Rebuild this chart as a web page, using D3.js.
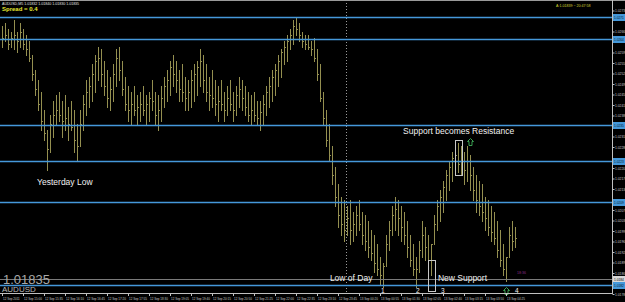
<!DOCTYPE html>
<html><head><meta charset="utf-8">
<script src="https://cdn.jsdelivr.net/npm/d3@7"></script>
<style>html,body{margin:0;padding:0;background:#000;overflow:hidden}</style>
</head><body><svg id="c" width="625" height="302"></svg>
<script>
// ---- data (AUDUSD, M5 bars) ----
const highs = [
1.0268,1.0269,1.0267,1.0266,1.0270,1.0266,1.0269,1.0267,1.0265,1.0263,
1.0258,1.0253,1.0250,1.0246,1.0240,1.0233,1.0238,1.0243,1.0245,1.0246,
1.0243,1.0245,1.0241,1.0243,1.0240,1.0235,1.0240,1.0245,1.0250,1.0251,
1.0255,1.0258,1.0261,1.0260,1.0256,1.0253,1.0251,1.0255,1.0260,1.0261,
1.0256,1.0251,1.0248,1.0246,1.0248,1.0245,1.0246,1.0248,1.0245,1.0246,
1.0250,1.0246,1.0245,1.0248,1.0251,1.0253,1.0256,1.0258,1.0256,1.0253,
1.0255,1.0251,1.0250,1.0253,1.0255,1.0256,1.0260,1.0258,1.0255,1.0251,
1.0253,1.0250,1.0248,1.0250,1.0246,1.0248,1.0250,1.0246,1.0248,1.0251,
1.0250,1.0248,1.0246,1.0245,1.0246,1.0243,1.0243,1.0245,1.0248,1.0251,
1.0253,1.0255,1.0258,1.0260,1.0263,1.0265,1.0267,1.0270,1.0271,1.0269,
1.0266,1.0265,1.0265,1.0263,1.0264,1.0260,1.0255,1.0246,1.0240,1.0235,
1.0228,1.0221,1.0215,1.0211,1.0210,1.0208,1.0210,1.0206,1.0208,1.0210,
1.0206,1.0205,1.0203,1.0200,1.0198,1.0195,1.0191,1.0189,1.0198,1.0203,
1.0208,1.0211,1.0210,1.0208,1.0206,1.0203,1.0198,1.0195,1.0191,1.0196,
1.0203,1.0201,1.0198,1.0195,1.0205,1.0210,1.0213,1.0216,1.0220,1.0223,
1.0226,1.0230,1.0229,1.0228,1.0226,1.0228,1.0225,1.0221,1.0218,1.0216,
1.0215,1.0211,1.0210,1.0208,1.0206,1.0203,1.0200,1.0195,1.0191,1.0201,
1.0203,1.0201];
const lows = [
1.0261,1.0263,1.0260,1.0261,1.0260,1.0259,1.0261,1.0260,1.0258,1.0256,
1.0250,1.0245,1.0240,1.0233,1.0230,1.0220,1.0226,1.0231,1.0235,1.0236,
1.0231,1.0233,1.0230,1.0233,1.0226,1.0223,1.0228,1.0233,1.0238,1.0241,
1.0243,1.0246,1.0250,1.0248,1.0245,1.0241,1.0240,1.0243,1.0248,1.0250,
1.0245,1.0240,1.0236,1.0235,1.0238,1.0235,1.0236,1.0238,1.0235,1.0236,
1.0240,1.0235,1.0233,1.0236,1.0241,1.0243,1.0245,1.0248,1.0246,1.0243,
1.0243,1.0240,1.0240,1.0241,1.0243,1.0245,1.0248,1.0246,1.0243,1.0240,
1.0241,1.0238,1.0236,1.0240,1.0236,1.0238,1.0240,1.0236,1.0238,1.0241,
1.0240,1.0238,1.0236,1.0235,1.0236,1.0235,1.0233,1.0235,1.0238,1.0241,
1.0243,1.0245,1.0248,1.0251,1.0255,1.0256,1.0260,1.0262,1.0265,1.0263,
1.0261,1.0260,1.0260,1.0258,1.0256,1.0250,1.0243,1.0235,1.0228,1.0223,
1.0215,1.0208,1.0201,1.0198,1.0196,1.0198,1.0195,1.0196,1.0198,1.0200,
1.0195,1.0193,1.0191,1.0190,1.0186,1.0185,1.0182,1.0181,1.0188,1.0193,
1.0198,1.0200,1.0198,1.0196,1.0195,1.0191,1.0188,1.0185,1.0181,1.0186,
1.0191,1.0190,1.0186,1.0185,1.0195,1.0200,1.0203,1.0206,1.0210,1.0213,
1.0216,1.0220,1.0219,1.0218,1.0215,1.0216,1.0213,1.0210,1.0206,1.0205,
1.0203,1.0200,1.0198,1.0196,1.0195,1.0191,1.0188,1.0185,1.0183,1.0191,
1.0193,1.0194];
const closes = [
1.0264,1.0265,1.0262,1.0264,1.0265,1.0263,1.0266,1.0262,1.0260,1.0257,
1.0252,1.0247,1.0242,1.0236,1.0232,1.0227,1.0235,1.0238,1.0240,1.0238,
1.0236,1.0237,1.0235,1.0234,1.0230,1.0228,1.0235,1.0242,1.0246,1.0248,
1.0252,1.0256,1.0257,1.0252,1.0248,1.0244,1.0247,1.0252,1.0257,1.0253,
1.0247,1.0242,1.0240,1.0242,1.0240,1.0241,1.0242,1.0240,1.0242,1.0244,
1.0243,1.0238,1.0240,1.0244,1.0248,1.0250,1.0254,1.0252,1.0250,1.0247,
1.0246,1.0244,1.0246,1.0250,1.0252,1.0254,1.0256,1.0250,1.0246,1.0245,
1.0244,1.0242,1.0243,1.0242,1.0240,1.0244,1.0242,1.0240,1.0245,1.0247,
1.0244,1.0241,1.0238,1.0240,1.0238,1.0237,1.0239,1.0242,1.0246,1.0248,
1.0251,1.0253,1.0256,1.0259,1.0261,1.0263,1.0265,1.0268,1.0267,1.0265,
1.0263,1.0262,1.0261,1.0260,1.0257,1.0252,1.0244,1.0237,1.0230,1.0225,
1.0218,1.0211,1.0205,1.0202,1.0200,1.0204,1.0200,1.0202,1.0205,1.0202,
1.0198,1.0196,1.0194,1.0192,1.0189,1.0187,1.0185,1.0188,1.0195,1.0200,
1.0205,1.0207,1.0204,1.0201,1.0198,1.0194,1.0190,1.0187,1.0187,1.0193,
1.0198,1.0194,1.0190,1.0195,1.0202,1.0208,1.0211,1.0214,1.0218,1.0221,
1.0224,1.0225,1.0222,1.0224,1.0220,1.0223,1.0218,1.0213,1.0210,1.0208,
1.0206,1.0204,1.0201,1.0199,1.0197,1.0193,1.0190,1.0187,1.0191,1.0198,
1.0196,1.0197];
const firstOpen = 1.0266;
const levels = [1.02708, 1.02635, 1.02348, 1.02228, 1.02092, 1.01815];
const markLevel = 1.01835;
const dayStartBar = 114.7;
const priceTicks = [1.01785,1.01820,1.01855,1.01890,1.01925,1.01960,1.01995,1.02030,1.02065,1.02100,
  1.02135,1.02170,1.02205,1.02240,1.02275,1.02310,1.02345,1.02380,1.02415,1.02450,
  1.02485,1.02520,1.02555,1.02590,1.02625,1.02660,1.02695,1.02730];
const timeLabels = ["12 Sep 2011","12 Sep 15:00","12 Sep 15:35","12 Sep 16:10","12 Sep 16:45","12 Sep 17:20",
  "12 Sep 17:55","12 Sep 18:30","12 Sep 19:05","12 Sep 19:40","12 Sep 20:15","12 Sep 20:50","12 Sep 21:25",
  "12 Sep 22:00","12 Sep 22:35","12 Sep 23:10","12 Sep 23:45","13 Sep 00:20","13 Sep 00:55","13 Sep 01:30",
  "13 Sep 02:05","13 Sep 02:40","13 Sep 03:15","13 Sep 03:50","13 Sep 04:25"];
const labelEvery = 7;
const notes = [
  {t:"Yesterday Low", i:11.7, p:1.02150, s:8.5},
  {t:"Support becomes Resistance", i:133.7, p:1.02318, s:8.5},
  {t:"Low of Day", i:109.3, p:1.01828, s:8.5},
  {t:"New Support", i:145.3, p:1.01828, s:8.5},
  {t:"1", i:126.3, p:1.01790, s:6.5},
  {t:"2", i:138.0, p:1.01790, s:6.5},
  {t:"3", i:146.3, p:1.01790, s:6.5},
  {t:"4", i:171.0, p:1.01790, s:6.5}
];
const boxes = [ {i0:151, i1:153.3, p0:1.02298, p1:1.02182}, {i0:142, i1:144.3, p0:1.01898, p1:1.01795} ];
const arrows = [ {i:156, p:1.02305}, {i:168, p:1.01808} ];

// ---- drawing ----
const plotR = 612, plotB = 293;
const FONT = "Arial, 'Liberation Sans', sans-serif";
const LVL = "#4598da";
const svg = d3.select("#c");
svg.append("rect").attr("width",625).attr("height",302).attr("fill","#000");
const x = d3.scaleLinear().domain([0,204]).range([2,614]);
const y = d3.scaleLinear().domain([1.0180,1.0280]).range([289.5,-10.5]);

const plot = svg.append("g");
// day separator
plot.append("line").attr("x1",Math.round(x(dayStartBar))+0.5).attr("x2",Math.round(x(dayStartBar))+0.5)
  .attr("y1",0).attr("y2",plotB).attr("stroke","#9a9a9a").attr("stroke-dasharray","1,2");

// bars
const bars = highs.map((h,i)=>({i,h,l:lows[i],c:closes[i],o:i===0?firstOpen:closes[i-1]}));
plot.append("path").attr("fill","none").attr("stroke","#948f50").attr("stroke-width",1).attr("shape-rendering","crispEdges")
  .attr("d", bars.map(b=>{
    const px = Math.round(x(b.i))+0.5;
    const yo = Math.round(y(b.o))+0.5, yc = Math.round(y(b.c))+0.5;
    return `M${px},${Math.round(y(b.h))}V${Math.round(y(b.l))+1}M${px-1},${yo}H${px}M${px},${yc}H${px+1}`;
  }).join(""));

// levels
plot.selectAll(".lvl").data(levels).join("line").attr("class","lvl")
  .attr("x1",0).attr("x2",plotR).attr("y1",d=>Math.round(y(d))+0.5).attr("y2",d=>Math.round(y(d))+0.5)
  .attr("stroke",LVL).attr("stroke-width",1.6);
plot.append("line").attr("x1",0).attr("x2",plotR).attr("y1",Math.round(y(markLevel))+0.5).attr("y2",Math.round(y(markLevel))+0.5)
  .attr("stroke","#7a7a7a").attr("stroke-width",1).attr("shape-rendering","crispEdges");

// annotations
plot.selectAll(".bx").data(boxes).join("rect").attr("class","bx")
  .attr("x",d=>Math.round(x(d.i0))+0.5).attr("y",d=>Math.round(y(d.p0))+0.5)
  .attr("width",d=>Math.round(x(d.i1)-x(d.i0))).attr("height",d=>Math.round(y(d.p1)-y(d.p0)))
  .attr("fill","none").attr("stroke","#c8c8c8").attr("stroke-width",1);
plot.selectAll(".ar").data(arrows).join("path").attr("class","ar")
  .attr("d",d=>{const cx=Math.round(x(d.i))+0.5, t=Math.round(y(d.p))+0.5;
    return `M${cx},${t}L${cx+3},${t+3}L${cx+1.5},${t+3}L${cx+1.5},${t+7}L${cx-1.5},${t+7}L${cx-1.5},${t+3}L${cx-3},${t+3}Z`;})
  .attr("fill","none").attr("stroke","#3aa052").attr("stroke-width",1);
plot.selectAll(".nt").data(notes).join("text").attr("class","nt")
  .attr("x",d=>x(d.i)).attr("y",d=>y(d.p)).attr("font-family",FONT)
  .attr("font-size",d=>d.s).attr("fill","#f0f0f0").text(d=>d.t);

// big price label and symbol
svg.append("text").attr("x",3).attr("y",y(markLevel)+4.5).attr("font-family",FONT)
  .attr("font-size",13).attr("fill","#a8a8a8").text("1.01835");
svg.append("text").attr("x",2).attr("y",292).attr("font-family",FONT)
  .attr("font-size",8).attr("fill","#b8b8b8").text("AUDUSD");

// header
svg.append("text").attr("x",2).attr("y",5).attr("font-family",FONT).attr("font-size",3.6)
  .attr("fill","#e0e0e0").text("AUDUSD,M5  1.01832 1.01840 1.01830 1.01835");
svg.append("text").attr("x",2).attr("y",11).attr("font-family",FONT).attr("font-size",6)
  .attr("font-weight","bold").attr("fill","#e8e830").text("Spread = 0.4");
svg.append("text").attr("x",556).attr("y",7).attr("font-family",FONT).attr("font-size",3.6)
  .attr("fill","#d8d830").text("A:1.01839 ~ 20:47:58");
svg.append("text").attr("x",517).attr("y",274).attr("font-family",FONT).attr("font-size",3.6)
  .attr("fill","#8a2a8a").text("18:36");

// frame
svg.append("line").attr("x1",0).attr("x2",625).attr("y1",0.5).attr("y2",0.5).attr("stroke","#9a9a9a");
svg.append("line").attr("x1",plotR+0.5).attr("x2",plotR+0.5).attr("y1",0).attr("y2",plotB+1).attr("stroke","#c0c0c0");
svg.append("line").attr("x1",0).attr("x2",plotR+1).attr("y1",plotB+0.5).attr("y2",plotB+0.5).attr("stroke","#c0c0c0");

// price axis (labels hidden behind line tags are skipped, as the tags cover them)
const tagPrices = levels.concat([markLevel]);
const shownTicks = priceTicks.filter(t=>tagPrices.every(v=>Math.abs(y(t)-y(v))>4.5));
const ax = svg.append("g").attr("transform",`translate(${plotR+0.5},0)`);
ax.call(d3.axisRight(y).tickValues(shownTicks).tickSize(2).tickFormat(d3.format(".4f")));
ax.select(".domain").remove();
ax.selectAll("line").attr("stroke","#c0c0c0");
ax.selectAll("text").attr("fill","#c8c8c8").attr("font-size",3.3).attr("font-family",FONT).attr("x",2.5);
// level tags
const tags = svg.append("g");
levels.forEach(v=>{
  tags.append("rect").attr("x",plotR+1).attr("y",Math.round(y(v))-3).attr("width",12).attr("height",7).attr("fill",LVL);
  tags.append("text").attr("x",plotR+2).attr("y",Math.round(y(v))+1.5).attr("font-size",3.2).attr("font-family",FONT).attr("fill","#0a1a2a").text(d3.format(".4f")(v));
});
tags.append("rect").attr("x",plotR+1).attr("y",Math.round(y(markLevel))-3).attr("width",12).attr("height",6).attr("fill","#d8d8d8");
tags.append("text").attr("x",plotR+2).attr("y",Math.round(y(markLevel))+1.5).attr("font-size",3.2).attr("font-family",FONT).attr("fill","#000").text(d3.format(".4f")(markLevel));

// time axis
const tg = svg.append("g");
timeLabels.forEach((t,k)=>{
  const px = Math.round(x(k*labelEvery))+0.5;
  tg.append("line").attr("x1",px).attr("x2",px).attr("y1",plotB+1).attr("y2",plotB+3).attr("stroke","#c0c0c0");
  tg.append("text").attr("x",px+0.5).attr("y",299.5).attr("font-size",3.0).attr("font-family",FONT).attr("fill","#c8c8c8").text(t);
});
</script></body></html>
